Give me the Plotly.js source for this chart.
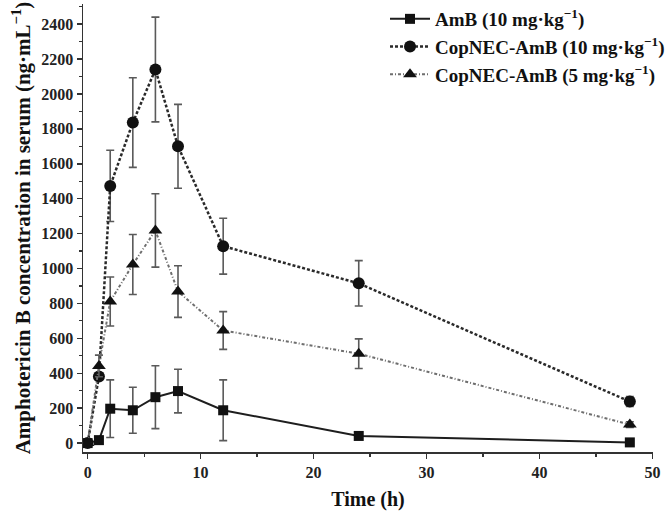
<!DOCTYPE html>
<html>
<head>
<meta charset="utf-8">
<script src="https://cdn.plot.ly/plotly-3.0.1.min.js"></script>
<style>html,body{margin:0;padding:0;background:#fff;}#chart{width:670px;height:516px;}</style>
</head>
<body>
<div id="chart"></div>
<script>
const timeH = [0, 1, 2, 4, 6, 8, 12, 24, 48];

const amb10 = [0, 17, 197, 188, 263, 298, 188, 41, 4];
const amb10Err = [0, 0, 165, 132, 180, 125, 174, 0, 0];

const cop10 = [0, 382, 1473, 1836, 2140, 1700, 1128, 915, 238];
const cop10Err = [0, 0, 204, 257, 300, 240, 160, 130, 28];

const cop5 = [0, 442, 811, 1023, 1218, 868, 645, 512, 106];
const cop5Err = [0, 62, 140, 172, 210, 148, 108, 85, 16];

const seriesNames = [
  'AmB (10 mg·kg<sup>−1</sup>)',
  'CopNEC-AmB (10 mg·kg<sup>−1</sup>)',
  'CopNEC-AmB (5 mg·kg<sup>−1</sup>)'
];

const xTicks = [0, 10, 20, 30, 40, 50];
const yTicks = [0, 200, 400, 600, 800, 1000, 1200, 1400, 1600, 1800, 2000, 2200, 2400];

const font = 'Liberation Serif, Times New Roman, serif';

function errObj(arr) {
  return {type: 'data', array: arr, visible: true, color: '#5a5a5a', thickness: 1.6, width: 4};
}

const traces = [
  {
    x: timeH, y: amb10, name: seriesNames[0], mode: 'lines+markers',
    line: {color: '#1e1e1e', width: 2},
    marker: {symbol: 'square', size: 10, color: '#111'},
    error_y: errObj(amb10Err)
  },
  {
    x: timeH, y: cop10, name: seriesNames[1], mode: 'lines+markers',
    line: {color: '#2a2a2a', width: 2.5, dash: '3px,2px'},
    marker: {symbol: 'circle', size: 12, color: '#111'},
    error_y: errObj(cop10Err)
  },
  {
    x: timeH, y: cop5, name: seriesNames[2], mode: 'lines+markers',
    line: {color: '#6e6e6e', width: 2, dash: '3px,2px,1px,2px'},
    marker: {symbol: 'triangle-up', size: 12, color: '#111'},
    error_y: errObj(cop5Err)
  }
];

const layout = {
  width: 670, height: 516,
  margin: {l: 83, r: 10, t: 0, b: 64},
  paper_bgcolor: '#fff', plot_bgcolor: '#fff',
  font: {family: font, color: '#111', size: 16},
  showlegend: true,
  legend: {
    x: 1.03, xanchor: 'right', y: 1.01, yanchor: 'top',
    bgcolor: 'rgba(0,0,0,0)',
    font: {family: font, size: 19, color: '#111', weight: 'bold'},
    tracegroupgap: 0, itemwidth: 40
  },
  xaxis: {
    range: [-0.41, 50.05],
    tickmode: 'array', tickvals: xTicks, ticktext: xTicks.map(String),
    ticks: 'outside', ticklen: 5, tickwidth: 1.5, tickcolor: '#333',
    minor: {ticks: 'outside', ticklen: 3, tickwidth: 1.2, tickcolor: '#333', dtick: 5, tick0: 0},
    showline: true, linecolor: '#333', linewidth: 1.5,
    showgrid: false, zeroline: false,
    tickfont: {family: font, size: 16, color: '#222', weight: 'bold'},
    title: {text: 'Time (h)', font: {family: font, size: 20, color: '#111', weight: 'bold'}, standoff: 12}
  },
  yaxis: {
    range: [-51, 2515],
    tickmode: 'array', tickvals: yTicks, ticktext: yTicks.map(String),
    ticks: 'outside', ticklen: 5, tickwidth: 1.5, tickcolor: '#333',
    minor: {ticks: 'outside', ticklen: 3, tickwidth: 1.2, tickcolor: '#333', dtick: 100, tick0: 0},
    showline: true, linecolor: '#333', linewidth: 1.5,
    showgrid: false, zeroline: false,
    tickfont: {family: font, size: 16, color: '#222', weight: 'bold'},
    title: {text: 'Amphotericin B concentration in serum (ng·mL<sup>−1</sup>)', font: {family: font, size: 21, color: '#111', weight: 'bold'}, standoff: 5}
  }
};

Plotly.newPlot('chart', traces, layout, {displayModeBar: false, staticPlot: true});
</script>
</body>
</html>
